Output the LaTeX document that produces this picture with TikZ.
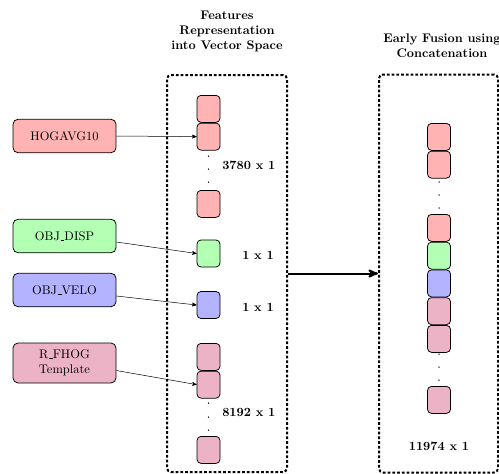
\documentclass[tikz,border=0pt]{standalone}
\usepackage{tikz}
\usetikzlibrary{arrows,positioning}
\tikzset{>=stealth'}
\definecolor{hogC}{HTML}{FFB3B3}
\definecolor{dispC}{HTML}{B3FFB3}
\definecolor{veloC}{HTML}{B3B3FF}
\definecolor{fhogC}{HTML}{ECB3C6}
\newcommand{\lowbar}{\leavevmode\kern.06em\vbox{\hrule width.3em}}
\tikzset{
  feat/.style={draw,line width=0.6pt,rounded corners=4pt,minimum width=82.4pt,
    minimum height=26.8pt,align=center,inner sep=2pt},
  cell/.style={draw,line width=0.6pt,rounded corners=3.2pt,minimum width=18.4pt,
    minimum height=21.6pt,inner sep=0pt},
  dimlab/.style={font=\bfseries,anchor=west,inner sep=0pt},
  dotbox/.style={draw,rounded corners=3.2pt,line width=1.6pt,
    dash pattern=on 2.2pt off 1.6pt},
  vdot/.style={circle,fill,inner sep=0pt,minimum size=1.2pt},
}

\begin{document}
\begin{tikzpicture}[x=0.8pt,y=-0.8pt]
\useasboundingbox (0,0) rectangle (499,473);
% titles
\node[font=\bfseries,align=center] (reptitle) at (227,31) {Features\\Representation\\into Vector Space};
\node[font=\bfseries,align=center] (fusetitle) at (442,46) {Early Fusion using\\Concatenation};
% dotted containers
\node[dotbox,minimum width=96pt,minimum height=317.6pt] (repbox) at (227,273.5) {};
\node[dotbox,minimum width=95.2pt,minimum height=318.4pt] (fusebox) at (438.5,273.5) {};
% feature inputs
\node[feat,fill=hogC] (hog) at (64.5,136) {HOGAVG10};
\node[feat,fill=dispC] (disp) at (64.5,236) {OBJ\lowbar DISP};
\node[feat,fill=veloC] (velo) at (64.5,290) {OBJ\lowbar VELO};
\node[feat,fill=fhogC,minimum height=32pt] (fhog) at (64.5,363) {R\lowbar FHOG\\Template};
% vector space column
\node[cell,fill=hogC,anchor=north] (lh1) at (208.5,95) {};
\node[cell,fill=hogC,below=0pt of lh1] (lh2) {};
\foreach \y in {156,169,182} \node[vdot] at (208.5,\y) {};
\node[cell,fill=hogC,anchor=north] (lh3) at (208.5,190) {};
\node[cell,fill=dispC] (ld) at (208.5,253.5) {};
\node[cell,fill=veloC] (lv) at (208.5,305) {};
\node[cell,fill=fhogC,anchor=north] (lf1) at (208.5,343) {};
\node[cell,fill=fhogC,below=0pt of lf1] (lf2) {};
\foreach \y in {403,417,430} \node[vdot] at (208.5,\y) {};
\node[cell,fill=fhogC,anchor=north] (lf3) at (208.5,436) {};
\node[dimlab] (hogdim) at (222,165) {3780 x 1};
\node[dimlab] (dispdim) at (242,255) {1 x 1};
\node[dimlab] (velodim) at (242,307) {1 x 1};
\node[dimlab] (fhogdim) at (222,412) {8192 x 1};
% inputs into vectors
\draw[->] (hog.east) -- (lh2.west);
\draw[->] ([yshift=-4.8pt]disp.east) -- (ld.west);
\draw[->] ([yshift=-4.8pt]velo.east) -- (lv.west);
\draw[->] ([yshift=-6pt]fhog.east) -- (lf2.west);
\draw[->,line width=1.6pt] (repbox.east) -- (fusebox.west);
% concatenated column
\node[cell,fill=hogC,anchor=north] (rh1) at (439,123) {};
\node[cell,fill=hogC,below=0pt of rh1] (rh2) {};
\foreach \y in {182,195,208} \node[vdot] at (439,\y) {};
\node[cell,fill=hogC,anchor=north] (rh3) at (439,214) {};
\node[cell,fill=dispC,below=0pt of rh3] (rd) {};
\node[cell,fill=veloC,below=0pt of rd] (rv) {};
\node[cell,fill=fhogC,below=0pt of rv] (rf1) {};
\node[cell,fill=fhogC,below=0pt of rf1] (rf2) {};
\foreach \y in {354,367,380} \node[vdot] at (439,\y) {};
\node[cell,fill=fhogC,anchor=north] (rf3) at (439,386) {};
\node[font=\bfseries] (fusedim) at (439,446) {11974 x 1};
\end{tikzpicture}
\end{document}
